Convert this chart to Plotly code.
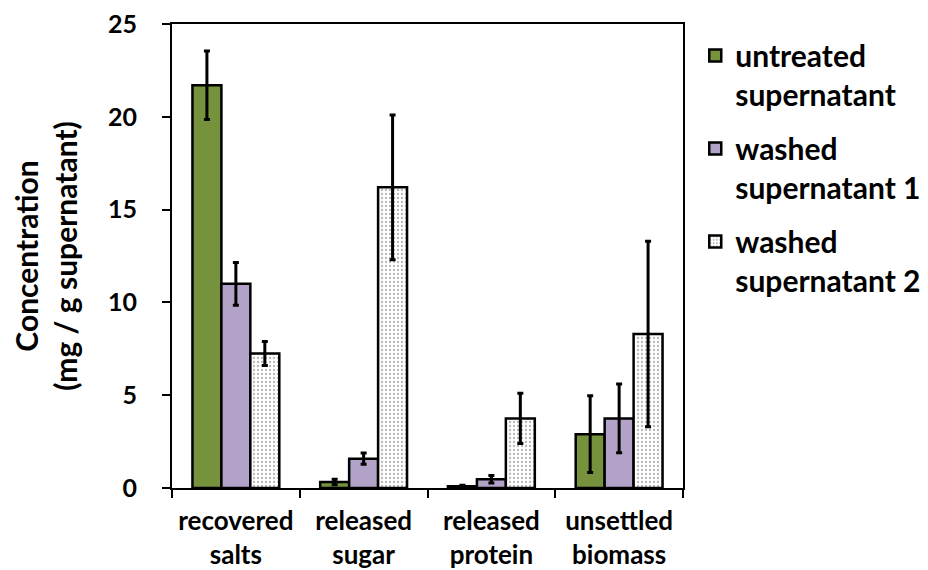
import plotly.graph_objects as go

categories = ["recovered<br>salts", "released<br>sugar", "released<br>protein", "unsettled<br>biomass"]
series_names = ["untreated<br>supernatant", "washed<br>supernatant 1", "washed<br>supernatant 2"]
untreated = [21.7, 0.32, 0.1, 2.9]
untreated_err = [1.85, 0.15, 0.05, 2.07]
washed1 = [11.0, 1.58, 0.47, 3.75]
washed1_err = [1.15, 0.3, 0.2, 1.85]
washed2 = [7.25, 16.2, 3.75, 8.3]
washed2_err = [0.65, 3.9, 1.35, 5.0]
y_ticks = [0, 5, 10, 15, 20, 25]

FONT = "Lato"
colors = ["#76923C", "#B3A2C7", "#FFFFFF"]

fig = go.Figure()
for i, (name, vals, errs) in enumerate(zip(series_names,
                                          [untreated, washed1, washed2],
                                          [untreated_err, washed1_err, washed2_err])):
    marker = dict(color=colors[i], line=dict(color="black", width=2.5))
    if i == 2:
        marker["pattern"] = dict(shape=".", fgcolor="#6b6b6b", bgcolor="white",
                                 size=4, solidity=0.25, fillmode="overlay")
    fig.add_trace(go.Bar(
        x=categories, y=vals, name=name, legendgroup=f"g{i}",
        marker=marker,
        error_y=dict(type="data", array=errs, visible=True, color="black",
                     thickness=3, width=3),
    ))

fig.update_layout(
    width=928, height=570,
    margin=dict(l=164, r=253, t=16, b=90, autoexpand=False),
    paper_bgcolor="white", plot_bgcolor="white",
    font=dict(family=FONT, color="black", size=24, weight="bold"),
    barmode="group", bargap=0.32, bargroupgap=0,
    showlegend=True,
    legend=dict(x=1.024, y=0.988, xanchor="left", yanchor="top",
                valign="top", traceorder="grouped",
                tracegroupgap=12,
                font=dict(family=FONT, size=30, color="black", weight="bold"),
                bgcolor="rgba(0,0,0,0)"),
)
fig.update_xaxes(
    type="category", showline=True, linecolor="black", linewidth=2,
    mirror=True, ticks="outside", tickson="boundaries", ticklen=8,
    tickwidth=2, tickcolor="black", showgrid=False, automargin=False,
    ticklabelstandoff=9, ticklabeloverflow="allow",
    tickfont=dict(family=FONT, size=26, color="black", weight="bold"),
)
fig.update_yaxes(
    range=[0, 25], tickvals=y_ticks, showline=True, linecolor="black",
    linewidth=2, mirror=True, ticks="outside", ticklen=8, tickwidth=2,
    tickcolor="black", showgrid=False, zeroline=False, automargin=False,
    ticklabeloverflow="allow",
    tickfont=dict(family=FONT, size=25, color="black", weight="bold"),
    ticklabelstandoff=20,
    title=dict(text="Concentration<br>(mg / g supernatant)",
               font=dict(family=FONT, size=30, color="black", weight="bold"),
               standoff=22),
)

fig.write_html("out.html")
